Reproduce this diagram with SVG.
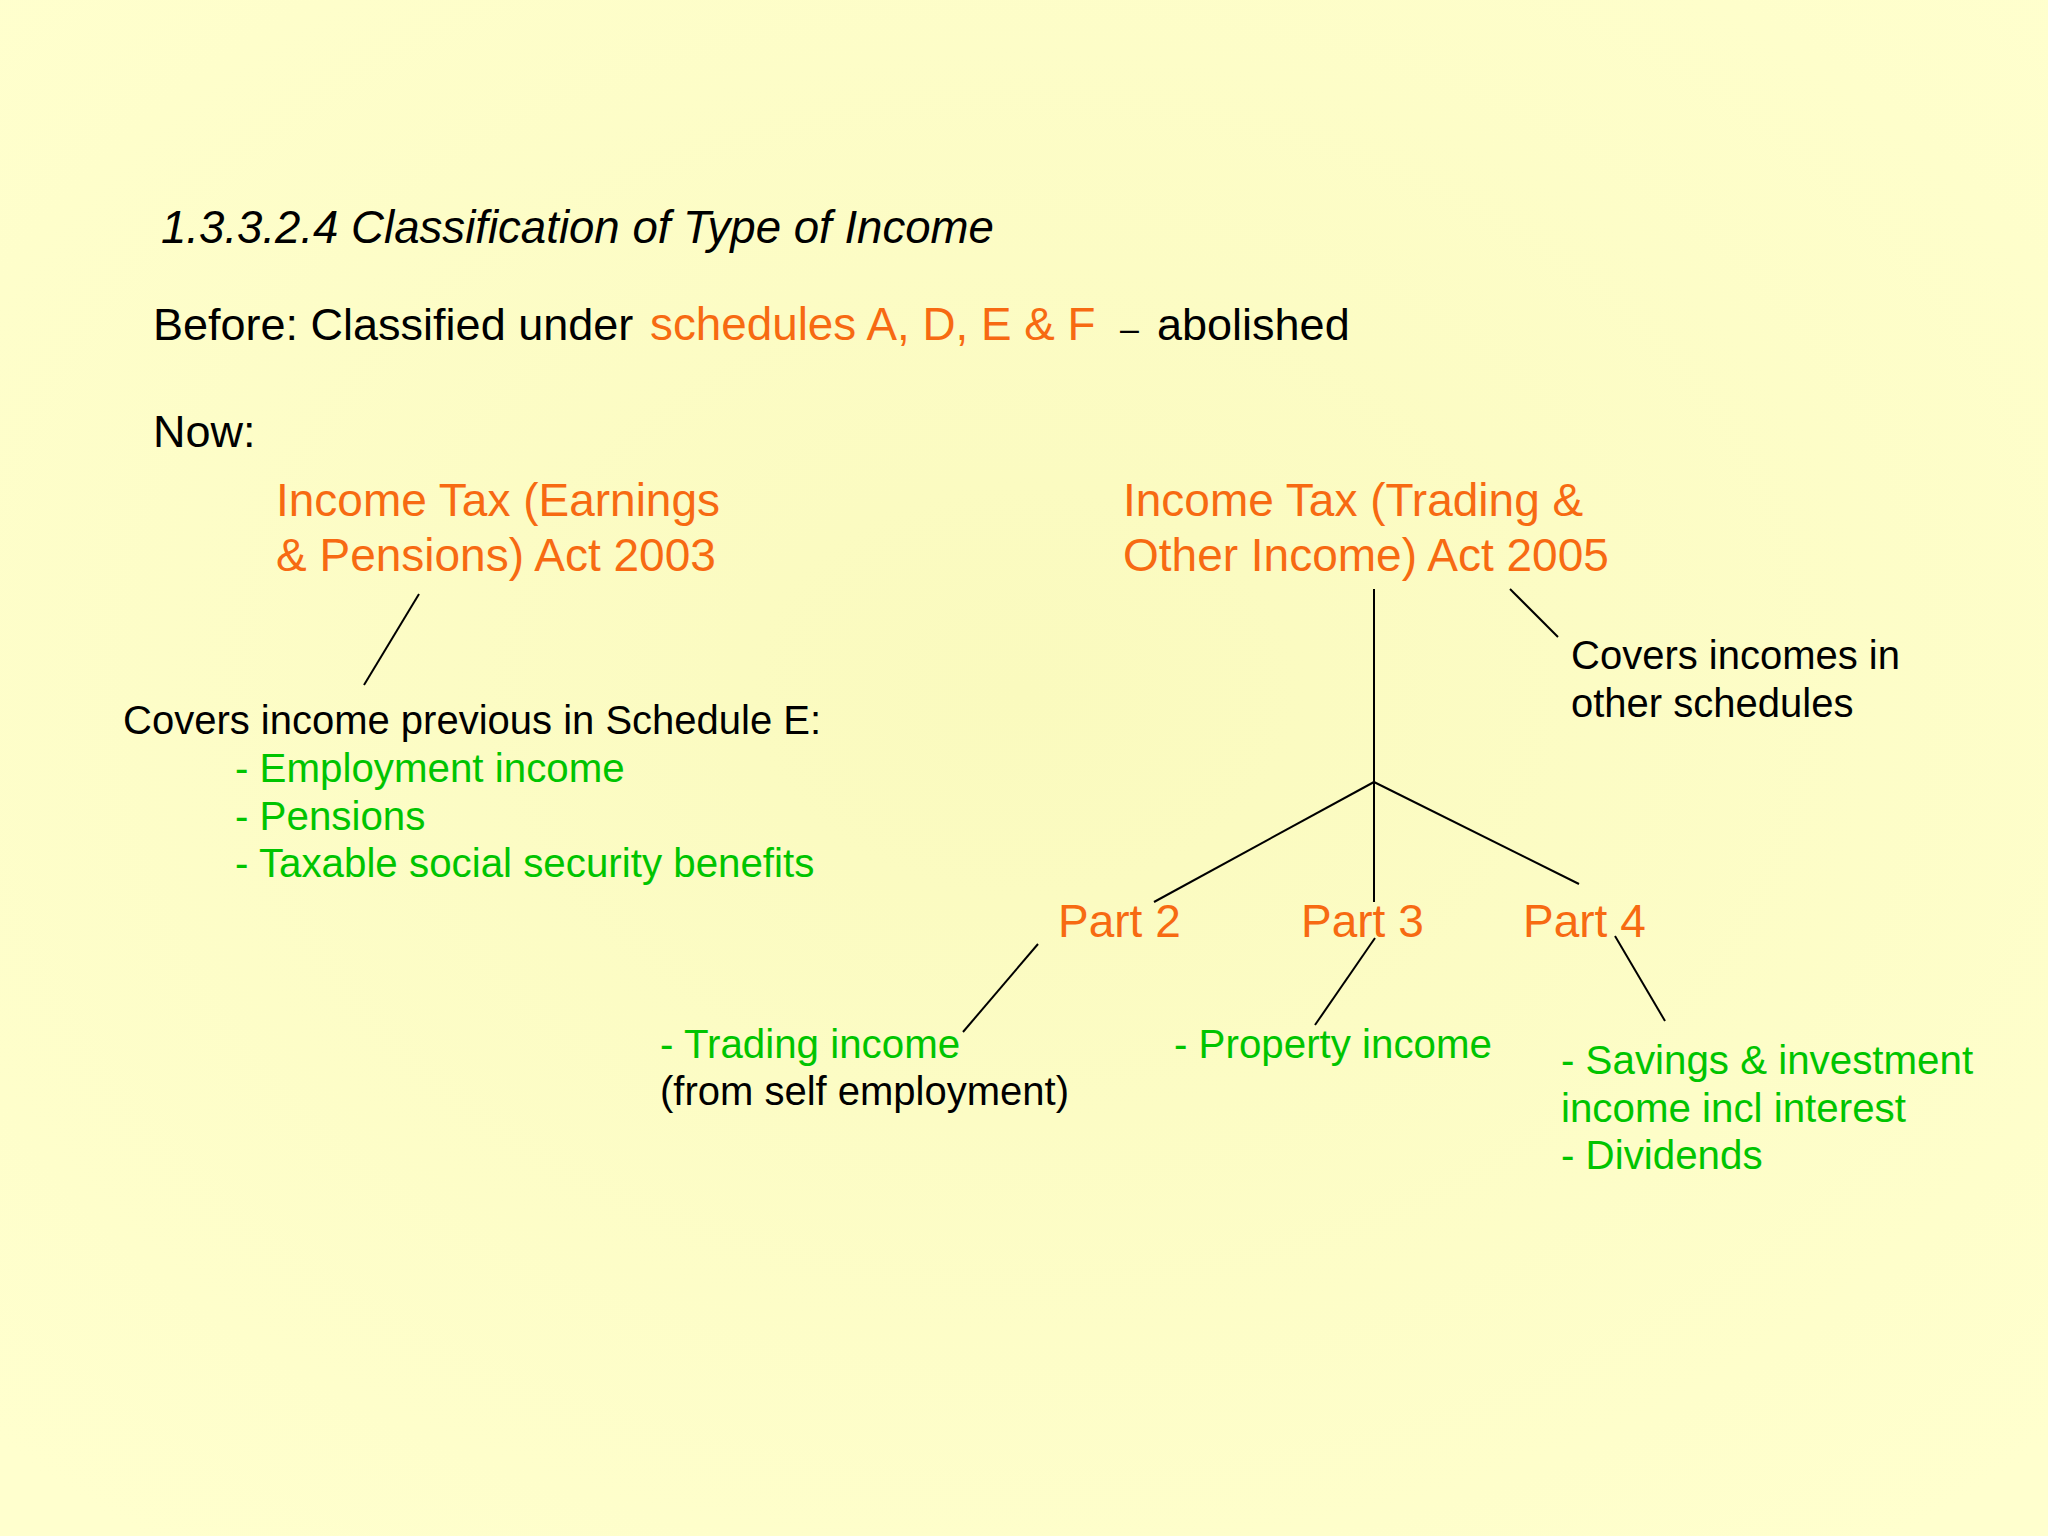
<svg xmlns="http://www.w3.org/2000/svg" width="2048" height="1536" viewBox="0 0 2048 1536">
<defs>
<radialGradient id="bg" cx="0.5" cy="0.45" r="0.7">
<stop offset="0" stop-color="#FAFABE"/>
<stop offset="1" stop-color="#FFFFCE"/>
</radialGradient>
</defs>
<style>
text{font-family:"Liberation Sans",Arial,sans-serif;}
.big{font-size:45px;fill:#000;}
.title{font-size:45.6px;font-style:italic;fill:#000;}
.or{fill:#F76A12;}
.orb{font-size:46px;fill:#F76A12;}
.sm{font-size:40px;fill:#000;}
.gr{font-size:40.3px;fill:#00C400;}
.ln{stroke:#000;stroke-width:2;fill:none;}
</style>
<rect width="2048" height="1536" fill="url(#bg)"/>
<g id="header">
<text class="title" x="161" y="243">1.3.3.2.4 Classification of Type of Income</text>
<text class="big" x="153" y="340">Before: Classified under <tspan class="or" x="650" font-size="45.8">schedules A, D, E &amp; F</tspan><tspan x="1120" font-size="34">–</tspan><tspan x="1157">abolished</tspan></text>
<text class="big" x="153" y="447">Now:</text>
</g>
<g id="connectors">
<line class="ln" x1="419" y1="594" x2="364" y2="685"/>
<line class="ln" x1="1374" y1="589" x2="1374" y2="902"/>
<line class="ln" x1="1374" y1="782" x2="1154" y2="902"/>
<line class="ln" x1="1374" y1="782" x2="1579" y2="884"/>
<line class="ln" x1="1510" y1="589" x2="1558" y2="637"/>
<line class="ln" x1="1038" y1="944" x2="963" y2="1032"/>
<line class="ln" x1="1375" y1="938" x2="1315" y2="1025"/>
<line class="ln" x1="1615" y1="936" x2="1665" y2="1021"/>
</g>
<g id="itepa">
<text class="orb" x="276" y="516">Income Tax (Earnings</text>
<text class="orb" x="276" y="571">&amp; Pensions) Act 2003</text>
</g>
<g id="ittoia">
<text class="orb" x="1123" y="516">Income Tax (Trading &amp;</text>
<text class="orb" x="1123" y="571">Other Income) Act 2005</text>
</g>
<g id="covers-other">
<text class="sm" x="1571" y="669">Covers incomes in</text>
<text class="sm" x="1571" y="717">other schedules</text>
</g>
<g id="schedule-e">
<text class="sm" x="123" y="734">Covers income previous in Schedule E:</text>
<text class="gr" x="235" y="782">- Employment income</text>
<text class="gr" x="235" y="830">- Pensions</text>
<text class="gr" x="235" y="877">- Taxable social security benefits</text>
</g>
<g id="part2"><text class="orb" x="1058" y="937">Part 2</text></g>
<g id="part3"><text class="orb" x="1301" y="937">Part 3</text></g>
<g id="part4"><text class="orb" x="1523" y="937">Part 4</text></g>
<g id="trading">
<text class="gr" x="660" y="1058">- Trading income</text>
<text class="sm" x="660" y="1105">(from self employment)</text>
</g>
<g id="property">
<text class="gr" x="1174" y="1058">- Property income</text>
</g>
<g id="savings">
<text class="gr" x="1561" y="1074">- Savings &amp; investment</text>
<text class="gr" x="1561" y="1122">income incl interest</text>
<text class="gr" x="1561" y="1169">- Dividends</text>
</g>
</svg>
